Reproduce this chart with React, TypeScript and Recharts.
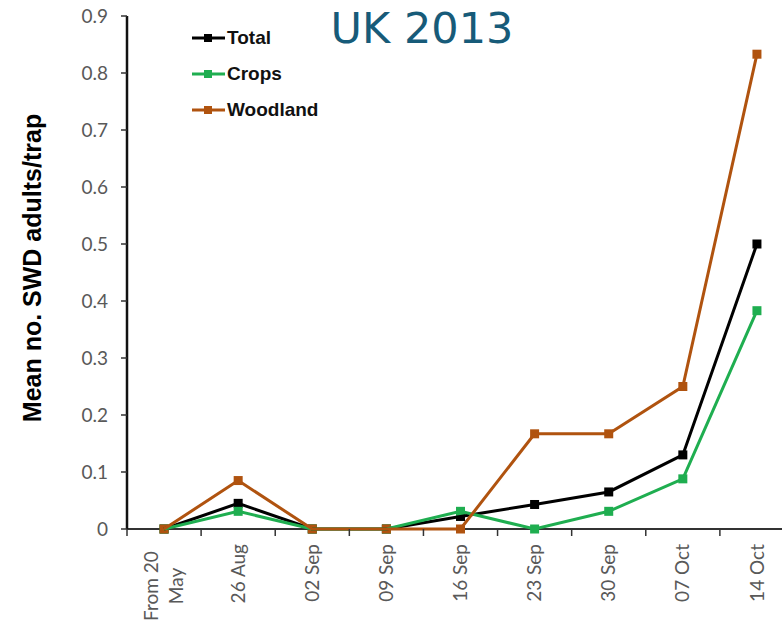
import React from 'react';
import { LineChart, Line, XAxis, YAxis, Legend } from 'recharts';

// week labels along the x axis ("\n" = wrapped label)
const weeks = ['From 20\nMay', '26 Aug', '02 Sep', '09 Sep', '16 Sep', '23 Sep', '30 Sep', '07 Oct', '14 Oct'];

// mean no. of SWD adults per trap
const total = [0, 0.045, 0, 0, 0.022, 0.043, 0.065, 0.13, 0.5];
const crops = [0, 0.031, 0, 0, 0.031, 0, 0.031, 0.088, 0.383];
const woodland = [0, 0.085, 0, 0, 0, 0.167, 0.167, 0.25, 0.833];

const seriesNames = ['Total', 'Crops', 'Woodland'];
const yTicks = [0, 0.1, 0.2, 0.3, 0.4, 0.5, 0.6, 0.7, 0.8, 0.9];

const data = weeks.map((week, i) => ({
    week,
    Total: total[i],
    Crops: crops[i],
    Woodland: woodland[i],
}));

const CHART_W = 800;
const CHART_H = 626;
const PLOT_LEFT = 127;
const PLOT_RIGHT = 6;
const BAND = (CHART_W - PLOT_LEFT - PLOT_RIGHT) / weeks.length;

const TICK_FONT = 'Lato, "Liberation Sans", Arial, sans-serif';
const BOLD_FONT = '"Liberation Sans", Arial, sans-serif';

const SquareDot = (props: any) => {
    const { cx, cy, stroke } = props;
    if (cx == null || cy == null) return null;
    return <rect x={cx - 4.5} y={cy - 4.5} width={9} height={9} fill={stroke} />;
};

const XTick = (props: any) => {
    const { x, y, payload, index } = props;
    const axisY = y - 8;
    const half = BAND / 2;
    const lines = String(payload.value).split('\n');
    const n = lines.length;
    const isLast = index === weeks.length - 1;
    return (
        <g>
            <line x1={x - half} x2={x - half} y1={axisY} y2={axisY + 7} stroke="#333" strokeWidth={1.5} />
            {isLast && <line x1={x + half} x2={x + half} y1={axisY} y2={axisY + 7} stroke="#333" strokeWidth={1.5} />}
            {lines.map((ln, i) => {
                const gx = x + (i - (n - 1) / 2) * 25;
                const gy = n > 1 ? axisY + 57 : axisY + 15;
                return (
                    <text
                        key={i}
                        x={gx}
                        y={gy}
                        dy="0.35em"
                        transform={`rotate(-90, ${gx}, ${gy})`}
                        textAnchor={n > 1 ? 'middle' : 'end'}
                        fill="#595959"
                        fontSize={19}
                        fontFamily={TICK_FONT}
                    >
                        {ln}
                    </text>
                );
            })}
        </g>
    );
};

const renderLegend = (props: any) => {
    const payload = [...(props.payload || [])].sort(
        (a: any, b: any) => seriesNames.indexOf(a.value) - seriesNames.indexOf(b.value)
    );
    return (
        <div>
            {payload.map((entry: any) => (
                <div key={entry.value} style={{ display: 'flex', alignItems: 'center', height: 36 }}>
                    <svg width={36} height={12}>
                        <line x1={1} x2={34} y1={6} y2={6} stroke={entry.color} strokeWidth={3} />
                        <rect x={13} y={2} width={8} height={8} fill={entry.color} />
                    </svg>
                    <span style={{ fontFamily: BOLD_FONT, fontWeight: 'bold', fontSize: 19, color: '#111' }}>
                        {entry.value}
                    </span>
                </div>
            ))}
        </div>
    );
};

const App: React.FC = () => {
    return (
        <div style={{ position: 'fixed', left: 0, top: 0, width: 782, height: 626, overflow: 'hidden', background: '#fff' }}>
            <LineChart
                width={CHART_W}
                height={CHART_H}
                data={data}
                margin={{ top: 16, right: PLOT_RIGHT, left: 50, bottom: 0 }}
            >
                <XAxis
                    dataKey="week"
                    height={97}
                    interval={0}
                    padding={{ left: BAND / 2, right: BAND / 2 }}
                    tickLine={false}
                    tickSize={6}
                    tickMargin={2}
                    tick={<XTick />}
                    axisLine={{ stroke: '#333', strokeWidth: 2 }}
                />
                <YAxis
                    width={77}
                    domain={[0, 0.9]}
                    ticks={yTicks}
                    interval={0}
                    tickFormatter={(v: number) => (v === 0 ? '0' : v.toFixed(1))}
                    tickSize={6}
                    tickMargin={13}
                    tickLine={{ stroke: '#333', strokeWidth: 1.5 }}
                    axisLine={{ stroke: '#111', strokeWidth: 2.5 }}
                    tick={{ fill: '#595959', fontSize: 19, fontFamily: TICK_FONT }}
                />
                <Legend
                    layout="vertical"
                    align="center"
                    verticalAlign="middle"
                    wrapperStyle={{ top: 20, left: 191, width: 200, height: 110 }}
                    content={renderLegend}
                />
                <Line dataKey="Total" stroke="#000000" strokeWidth={3} dot={<SquareDot />} zIndex={700} isAnimationActive={false} />
                <Line dataKey="Crops" stroke="#1fae50" strokeWidth={3} dot={<SquareDot />} zIndex={710} isAnimationActive={false} />
                <Line dataKey="Woodland" stroke="#b0530f" strokeWidth={3} dot={<SquareDot />} zIndex={720} isAnimationActive={false} />
            </LineChart>
            <div
                style={{
                    position: 'absolute',
                    left: 322,
                    top: 0,
                    width: 200,
                    textAlign: 'center',
                    fontFamily: '"DejaVu Sans", Verdana, sans-serif',
                    fontSize: 43,
                    lineHeight: '56px',
                    color: '#175b79',
                }}
            >
                UK 2013
            </div>
            <div
                style={{
                    position: 'absolute',
                    left: 32 - 200,
                    top: 268 - 16,
                    width: 400,
                    height: 32,
                    lineHeight: '32px',
                    textAlign: 'center',
                    transform: 'rotate(-90deg)',
                    fontFamily: BOLD_FONT,
                    fontWeight: 'bold',
                    fontSize: 25,
                    color: '#000',
                }}
            >
                Mean no. SWD adults/trap
            </div>
        </div>
    );
};

export default App;
